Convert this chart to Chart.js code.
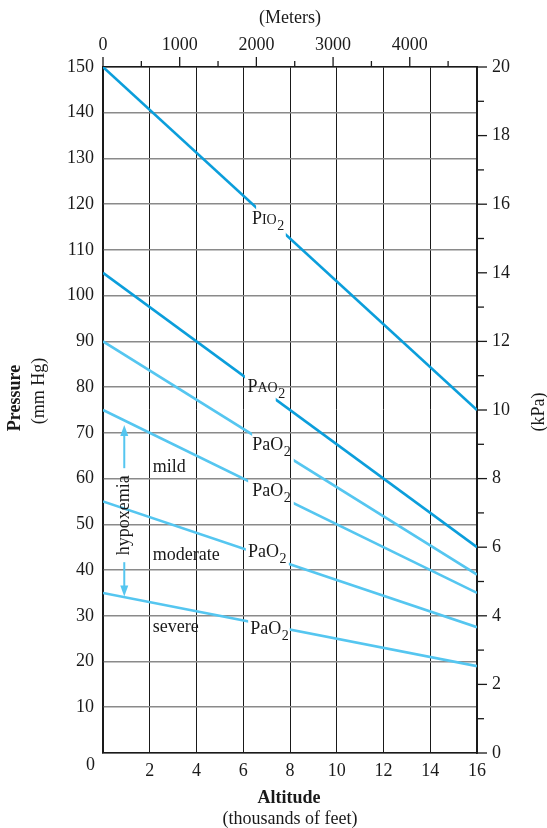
<!DOCTYPE html>
<html>
<head>
<meta charset="utf-8">
<script src="https://cdn.jsdelivr.net/npm/chart.js@4.4.0/dist/chart.umd.min.js"></script>
<style>
  body { margin: 0; background: #fff; }
  canvas { display: block; }
</style>
</head>
<body>
<canvas id="altChart" width="547" height="828"></canvas>
<script>
// altitude (thousands of feet) at both ends of each line, pressures in mm Hg
var altitude = [0, 16];
var pio2 = [150, 75];
var pAlveolar = [105, 45];
var paNormal = [90, 39];
var paMild = [75, 35];
var paModerate = [55, 27.5];
var paSevere = [35, 19];

// top axis labels in meters
var meterTicks = [0, 1000, 2000, 3000, 4000];

var series = [pio2, pAlveolar, paNormal, paMild, paModerate, paSevere];
// label text per line: big part, small caps part, subscript
var labelMain = ['P', 'P', 'PaO', 'PaO', 'PaO', 'PaO'];
var labelCaps = ['IO', 'AO', '', '', '', ''];
// altitude span where each line is broken to leave room for its label
var gapFrom = [6.55, 6.07, 6.38, 6.21, 6.11, 6.21];
var gapTo = [7.82, 7.39, 8.16, 8.16, 7.95, 7.99];

var DARK = '#0b9edb', LIGHT = '#55c6f0';
var FONT = '"Liberation Serif", "Times New Roman", serif';
var M_PER_KFT = 304.8;
var KPA_PER_MMHG = 20 / 150;

var lineColors = [DARK, DARK, LIGHT, LIGHT, LIGHT, LIGHT];

var datasets = series.map(function (s, i) {
    return {
        label: labelMain[i] + labelCaps[i] + '2',
        data: altitude.map(function (a, j) { return { x: a, y: s[j] }; }),
        borderColor: lineColors[i],
        borderWidth: 2.6,
        pointRadius: 0,
        tension: 0,
        fill: false
    };
});

// cut a hole in each line where its label sits
var gapClip = {
    id: 'gapClip',
    beforeDatasetDraw: function (chart, args) {
        var i = args.index, xs = chart.scales.x, a = chart.chartArea, ctx = chart.ctx;
        var p0 = xs.getPixelForValue(gapFrom[i]), p1 = xs.getPixelForValue(gapTo[i]);
        ctx.save();
        ctx.beginPath();
        ctx.rect(a.left - 5, a.top - 5, p0 - a.left + 5, a.bottom - a.top + 10);
        ctx.rect(p1, a.top - 5, a.right - p1 + 5, a.bottom - a.top + 10);
        ctx.clip();
    },
    afterDatasetDraw: function (chart) {
        chart.ctx.restore();
    }
};

function seg(ctx, x0, y0, x1, y1) {
    ctx.beginPath();
    ctx.moveTo(x0, y0);
    ctx.lineTo(x1, y1);
    ctx.stroke();
}

function gasLabel(ctx, x, y, main, caps) {
    ctx.textAlign = 'left';
    ctx.textBaseline = 'alphabetic';
    ctx.font = '18px ' + FONT;
    ctx.fillText(main, x, y);
    var w = ctx.measureText(main).width;
    if (caps) {
        ctx.font = '14px ' + FONT;
        ctx.fillText(caps, x + w, y);
        w += ctx.measureText(caps).width;
    }
    ctx.font = '14px ' + FONT;
    ctx.fillText('2', x + w + 0.5, y + 6);
}

function rotText(ctx, txt, x, y, font) {
    ctx.save();
    ctx.translate(x, y);
    ctx.rotate(-Math.PI / 2);
    ctx.font = font;
    ctx.textAlign = 'center';
    ctx.textBaseline = 'middle';
    ctx.fillText(txt, 0, 0);
    ctx.restore();
}

function arrowHead(ctx, x, y, dir) {
    ctx.beginPath();
    ctx.moveTo(x, y);
    ctx.lineTo(x - 4, y - dir * 11);
    ctx.lineTo(x + 4, y - dir * 11);
    ctx.closePath();
    ctx.fill();
}

var extras = {
    id: 'extras',
    afterDraw: function (chart) {
        var ctx = chart.ctx, a = chart.chartArea;
        var xs = chart.scales.x, ys = chart.scales.y, top = chart.scales.x2, right = chart.scales.y2;
        ctx.save();
        ctx.fillStyle = '#1a1a1a';
        ctx.strokeStyle = '#1a1a1a';
        ctx.lineWidth = 1.3;

        // meters ticks (top) and kPa ticks (right)
        for (var m = 0; m <= top.max; m += 500) {
            var px = top.getPixelForValue(m);
            seg(ctx, px, a.top, px, a.top - (m % 1000 === 0 ? 10 : 6));
        }
        for (var k = 0; k <= 20; k++) {
            var py = right.getPixelForValue(k);
            seg(ctx, a.right, py, a.right + (k % 2 === 0 ? 10 : 7), py);
        }

        ctx.font = '18px ' + FONT;
        ctx.textAlign = 'center';
        ctx.textBaseline = 'middle';
        meterTicks.forEach(function (v) {
            ctx.fillText(String(v), top.getPixelForValue(v), a.top - 22);
        });

        // origin label
        ctx.textAlign = 'right';
        ctx.fillText('0', a.left - 8, ys.getPixelForValue(0) + 12);

        // axis titles
        ctx.textAlign = 'center';
        ctx.fillText('(Meters)', 290, 18);
        ctx.font = 'bold 18px ' + FONT;
        ctx.fillText('Altitude', 289, 798);
        ctx.font = '18px ' + FONT;
        ctx.fillText('(thousands of feet)', 290, 819);
        rotText(ctx, 'Pressure', 15, 398, 'bold 18px ' + FONT);
        rotText(ctx, '(mm Hg)', 39, 391, '18px ' + FONT);
        rotText(ctx, '(kPa)', 539, 412, '18px ' + FONT);

        // line labels
        var labelX = [6.37, 6.18, 6.38, 6.38, 6.2, 6.3];
        var labelY = [115.7, 78.9, 66.3, 56.3, 42.9, 26];
        for (var i = 0; i < series.length; i++) {
            gasLabel(ctx, xs.getPixelForValue(labelX[i]), ys.getPixelForValue(labelY[i]), labelMain[i], labelCaps[i]);
        }

        // hypoxemia grades
        ctx.font = '18px ' + FONT;
        ctx.textAlign = 'left';
        ctx.textBaseline = 'alphabetic';
        var gx = xs.getPixelForValue(2.13);
        ctx.fillText('mild', gx, ys.getPixelForValue(61.5));
        ctx.fillText('moderate', gx, ys.getPixelForValue(42.2));
        ctx.fillText('severe', gx, ys.getPixelForValue(26.5));

        // hypoxemia double arrow
        var ax = xs.getPixelForValue(0.91);
        var yTop = ys.getPixelForValue(71.7), yBot = ys.getPixelForValue(34.2);
        var yMid = ys.getPixelForValue(52);
        ctx.strokeStyle = LIGHT;
        ctx.fillStyle = LIGHT;
        ctx.lineWidth = 2;
        seg(ctx, ax, yTop + 6, ax, yMid - 47);
        seg(ctx, ax, yMid + 47, ax, yBot - 6);
        arrowHead(ctx, ax, yTop, -1);
        arrowHead(ctx, ax, yBot, 1);
        ctx.fillStyle = '#1a1a1a';
        rotText(ctx, 'hypoxemia', ax, yMid, '18px ' + FONT);

        ctx.restore();
    }
};

var tickFont = { family: FONT, size: 18 };
var axisBorder = { color: '#1a1a1a', width: 1.5 };

new Chart(document.getElementById('altChart'), {
    type: 'line',
    data: { datasets: datasets },
    options: {
        responsive: false,
        animation: false,
        events: [],
        layout: { padding: 0 },
        plugins: { legend: { display: false }, tooltip: { enabled: false } },
        scales: {
            x: {
                type: 'linear', position: 'bottom', min: 0, max: 16,
                afterFit: function (s) { s.height = 75; },
                border: axisBorder,
                grid: { color: '#1a1a1a', lineWidth: 1, drawTicks: false },
                ticks: {
                    stepSize: 2, padding: 7, color: '#1a1a1a', font: tickFont, maxRotation: 0,
                    callback: function (v) { return v === 0 ? '' : String(v); }
                }
            },
            x2: {
                type: 'linear', position: 'top', min: 0, max: 16 * M_PER_KFT,
                afterFit: function (s) { s.height = 67; },
                border: axisBorder,
                grid: { drawOnChartArea: false, drawTicks: false },
                ticks: { display: false }
            },
            y: {
                type: 'linear', position: 'left', min: 0, max: 150,
                afterFit: function (s) { s.width = 103; },
                border: axisBorder,
                grid: { color: '#8a8a8a', lineWidth: 1.6, drawTicks: false },
                ticks: {
                    stepSize: 10, padding: 9, color: '#1a1a1a', font: tickFont,
                    callback: function (v) { return v === 0 ? '' : String(v); }
                }
            },
            y2: {
                type: 'linear', position: 'right', min: 0, max: 150 * KPA_PER_MMHG,
                afterFit: function (s) { s.width = 70; },
                border: axisBorder,
                grid: { drawOnChartArea: false, drawTicks: false },
                ticks: {
                    stepSize: 2, padding: 15, color: '#1a1a1a', font: tickFont,
                    callback: function (v) { return String(v); }
                }
            }
        }
    },
    plugins: [gapClip, extras]
});
</script>
</body>
</html>
